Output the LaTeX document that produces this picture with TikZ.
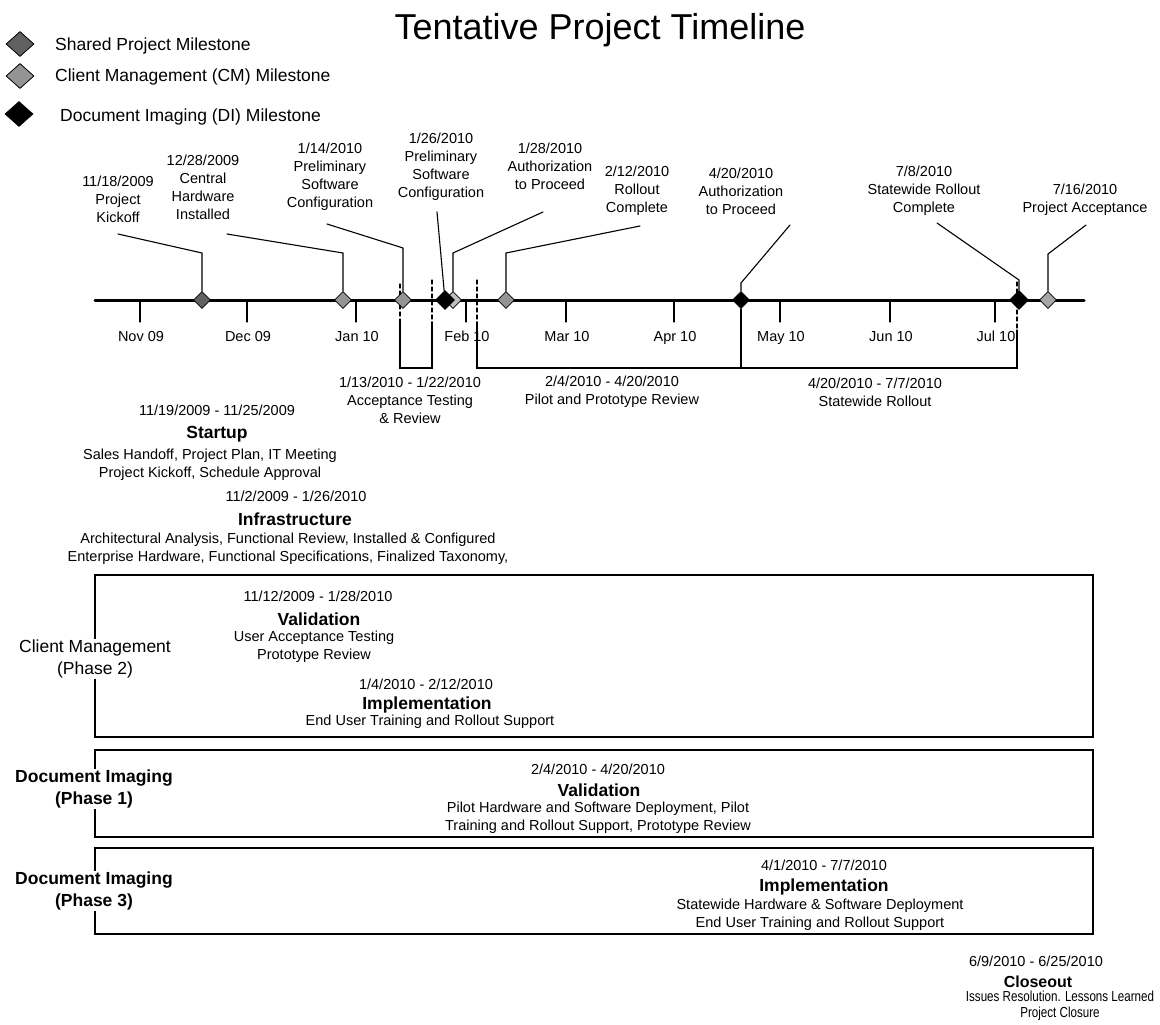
\documentclass[tikz,border=0pt]{standalone}
\usepackage{fontspec}
\setmainfont{Liberation Sans}
\newfontfamily\narrowsans[FakeStretch=0.8]{Liberation Sans}
\usetikzlibrary{shapes.geometric}

\tikzset{
  lbl/.style={align=center, inner sep=0pt, font=\fontsize{14.5}{18}\selectfont},
  phasehead/.style={inner sep=0pt, font=\fontsize{17.5}{20}\selectfont\bfseries},
  legendtxt/.style={anchor=west, inner sep=0pt, font=\fontsize{17.5}{20}\selectfont},
  ms/.style={diamond, draw=black, line width=0.8pt, minimum size=17pt, inner sep=0pt},
  sharedms/.style={ms, fill=black!62},
  cmms/.style={ms, fill=black!42},
  dims/.style={ms, fill=black},
  leader/.style={line width=1.1pt},
  guide/.style={line width=1.1pt, dash pattern=on 4pt off 3pt},
  phasebox/.style={draw, line width=1.4pt},
  boxlbl/.style={align=center, fill=white, inner sep=1pt, font=\fontsize{17.5}{22}\selectfont}
}

\begin{document}
\begin{tikzpicture}[x=1pt, y=-1pt, cap=round]
  \useasboundingbox (0,0) rectangle (1160,1025);

  % draw the title and the legend
  \node[font=\fontsize{36}{40}\selectfont, anchor=base, inner sep=0pt] (title) at (600,40) {Tentative Project Timeline};
  \node[sharedms, minimum width=28pt, minimum height=25pt] (legshared) at (20,44) {};
  \node[legendtxt] (legsharedtxt) at (55,46) {Shared Project Milestone};
  \node[cmms, minimum width=28pt, minimum height=25pt] (legcm) at (20,76) {};
  \node[legendtxt] (legcmtxt) at (55,77) {Client Management (CM) Milestone};
  \node[dims, minimum width=28pt, minimum height=25pt] (legdi) at (19,114) {};
  \node[legendtxt] (legditxt) at (60,117) {Document Imaging (DI) Milestone};

  % draw the month ticks and the time axis
  \foreach \x/\mon [count=\i] in {140/Nov 09, 247/Dec 09, 356/Jan 10, 466/Feb 10, 566/Mar 10,
                                  674/Apr 10, 780/May 10, 890/Jun 10, 995/Jul 10} {
    \draw[line width=1.2pt] (\x,300) -- (\x,322);
    \node[lbl, anchor=base] (month\i) at (\x+1,341) {\mon};
  }
  \coordinate (axisstart) at (95,300);
  \coordinate (axisend) at (1084,300);
  \draw[line width=3pt] (axisstart) -- (axisend);

  % dashed guides and the brackets under the axis
  \coordinate (accltop) at (400,284);
  \coordinate (acclmid) at (400,322);
  \coordinate (accrtop) at (432,280);
  \coordinate (accrmid) at (432,322);
  \coordinate (pilottop) at (477,280);
  \coordinate (pilotmid) at (477,322);
  \coordinate (swrtop) at (1017,282);
  \coordinate (swrmid) at (1017,330);
  \coordinate (rollbase) at (741,368);
  \draw[guide] (accltop) -- (acclmid) (accrtop) -- (accrmid) (pilottop) -- (pilotmid) (swrtop) -- (swrmid);
  \draw[leader] (acclmid) -- ++(0,46) -| (accrmid);
  \draw[leader] (pilotmid) |- (rollbase);

  % the milestones
  \node[sharedms] (kick) at (202,300) {};
  \node[cmms] (hw) at (343,300) {};
  \node[cmms] (cfga) at (403,300) {};
  \node[cmms, fill=black!25] (atpa) at (453,300) {};
  \node[dims, minimum size=19pt] (cfgb) at (445,300) {};
  \node[cmms] (roll) at (506,300) {};
  \node[dims] (atpb) at (741,300) {};
  \node[dims, minimum size=19pt] (swr) at (1019,300) {};
  \node[sharedms, fill=black!35] (accept) at (1048,300) {};

  \draw[leader] (atpb) -- (rollbase) -| (swrmid);

  % milestone labels
  \node[lbl] (kicklbl) at (118,199) {11/18/2009\\Project\\Kickoff};
  \node[lbl] (hwlbl) at (203,187.5) {12/28/2009\\Central\\Hardware\\Installed};
  \node[lbl] (cfgalbl) at (330,176.5) {1/14/2010\\Preliminary\\Software\\Configuration};
  \node[lbl] (cfgblbl) at (441,167) {1/26/2010\\Preliminary\\Software\\Configuration};
  \node[lbl] (atpalbl) at (550,166) {1/28/2010\\Authorization\\to Proceed};
  \node[lbl] (rolllbl) at (637,191) {2/12/2010\\Rollout\\Complete};
  \node[lbl] (atpblbl) at (741,191) {4/20/2010\\Authorization\\to Proceed};
  \node[lbl] (swrlbl) at (924,191) {7/8/2010\\Statewide Rollout\\Complete};
  \node[lbl] (acceptlbl) at (1085,200) {7/16/2010\\Project Acceptance};

  % leader lines from the labels down to the milestones
  \coordinate (kicktop) at (118,234);   \coordinate (kickbend) at (202,253);
  \coordinate (hwtop) at (227,234);     \coordinate (hwbend) at (343,253);
  \coordinate (cfgatop) at (327,224);   \coordinate (cfgabend) at (403,248);
  \coordinate (cfgbtop) at (437,212);
  \coordinate (atpatop) at (543,212);   \coordinate (atpabend) at (453,253);
  \coordinate (rolltop) at (640,226);   \coordinate (rollbend) at (506,253);
  \coordinate (atpbtop) at (790,225);   \coordinate (atpbbend) at (741,283);
  \coordinate (swrtopl) at (937,223);   \coordinate (swrbend) at (1019,280);
  \coordinate (accepttop) at (1086,225); \coordinate (acceptbend) at (1048,254);
  \draw[leader] (kicktop) -- (kickbend) -- (kick);
  \draw[leader] (hwtop) -- (hwbend) -- (hw);
  \draw[leader] (cfgatop) -- (cfgabend) -- (cfga);
  \draw[leader] (cfgbtop) -- (cfgb);
  \draw[leader] (atpatop) -- (atpabend) -- (atpa);
  \draw[leader] (rolltop) -- (rollbend) -- (roll);
  \draw[leader] (atpbtop) -- (atpbbend) -- (atpb);
  \draw[leader] (swrtopl) -- (swrbend) -- (swr);
  \draw[leader] (accepttop) -- (acceptbend) -- (accept);

  % bracket labels
  \node[lbl] (acclbl) at (410,400) {1/13/2010 - 1/22/2010\\Acceptance Testing\\\& Review};
  \node[lbl] (pilotlbl) at (612,392) {2/4/2010 - 4/20/2010\\Pilot and Prototype Review};
  \node[lbl] (statelbl) at (875,392) {4/20/2010 - 7/7/2010\\Statewide Rollout};

  % startup and infrastructure
  \node[lbl] (startdate) at (217,410) {11/19/2009 - 11/25/2009};
  \node[phasehead] (starthead) at (217,434) {Startup};
  \node[lbl] (startdesc) at (210,465) {Sales Handoff, Project Plan, IT Meeting\\Project Kickoff, Schedule Approval};
  \node[lbl] (infradate) at (296,496) {11/2/2009 - 1/26/2010};
  \node[phasehead] (infrahead) at (295,519) {Infrastructure};
  \node[lbl] (infradesc) at (288,549) {Architectural Analysis, Functional Review, Installed \& Configured\\Enterprise Hardware, Functional Specifications, Finalized Taxonomy,};

  % phase boxes
  \coordinate (cmnw) at (95,575);   \coordinate (cmse) at (1093,737);
  \coordinate (dianw) at (95,750);  \coordinate (diase) at (1093,837);
  \coordinate (dibnw) at (95,848);  \coordinate (dibse) at (1093,934);
  \draw[phasebox] (cmnw) rectangle (cmse);
  \draw[phasebox] (dianw) rectangle (diase);
  \draw[phasebox] (dibnw) rectangle (dibse);
  \node[boxlbl] (cmlbl) at (95,659) {Client Management\\(Phase 2)};
  \node[boxlbl, font=\fontsize{17.5}{22}\selectfont\bfseries] (dialbl) at (94,789) {Document Imaging\\(Phase 1)};
  \node[boxlbl, font=\fontsize{17.5}{22}\selectfont\bfseries] (diblbl) at (94,891) {Document Imaging\\(Phase 3)};

  % client management phase
  \node[lbl] (cmvaldate) at (318,596) {11/12/2009 - 1/28/2010};
  \node[phasehead] (cmvalhead) at (319,619) {Validation};
  \node[lbl] (cmvaldesc) at (314,647) {User Acceptance Testing\\Prototype Review};
  \node[lbl] (cmimpdate) at (426,684) {1/4/2010 - 2/12/2010};
  \node[phasehead] (cmimphead) at (427,705) {Implementation};
  \node[lbl] (cmimpdesc) at (430,722) {End User Training and Rollout Support};

  % document imaging phases
  \node[lbl] (divaldate) at (598,769) {2/4/2010 - 4/20/2010};
  \node[phasehead] (divalhead) at (599,790) {Validation};
  \node[lbl] (divaldesc) at (598,818) {Pilot Hardware and Software Deployment, Pilot\\Training and Rollout Support, Prototype Review};
  \node[lbl] (diimpdate) at (824,865) {4/1/2010 - 7/7/2010};
  \node[phasehead] (diimphead) at (824,887) {Implementation};
  \node[lbl] (diimpdesc) at (820,915) {Statewide Hardware \& Software Deployment\\End User Training and Rollout Support};

  % closeout
  \node[lbl] (closedate) at (1036,961) {6/9/2010 - 6/25/2010};
  \node[phasehead, font=\fontsize{16}{18}\selectfont\bfseries] (closehead) at (1038,982) {Closeout};
  \node[lbl, font=\fontsize{14.5}{16}\narrowsans] (closedesc) at (1060,1006) {Issues Resolution. Lessons Learned\\Project Closure};
\end{tikzpicture}
\end{document}
